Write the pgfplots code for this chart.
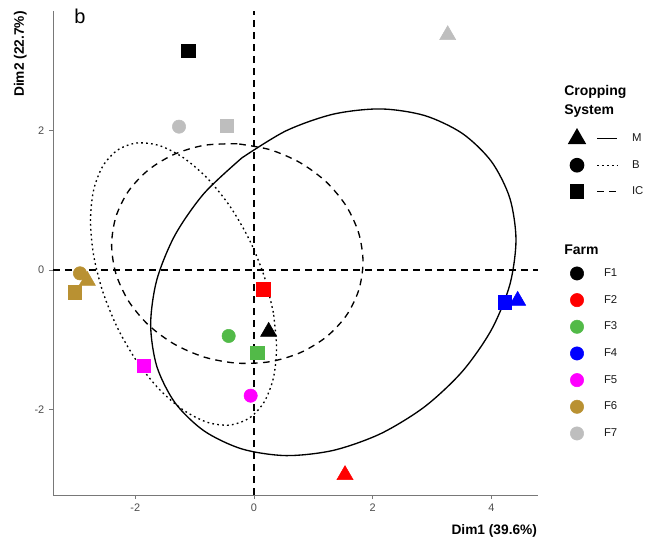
\documentclass[border=0pt]{standalone}
\usepackage{fontspec}
\setmainfont{Liberation Sans}
\usepackage{pgfplots}
\pgfplotsset{compat=1.18}
\definecolor{cF1}{RGB}{0,0,0}
\definecolor{cF2}{RGB}{255,0,0}
\definecolor{cF3}{RGB}{82,186,72}
\definecolor{cF4}{RGB}{0,0,255}
\definecolor{cF5}{RGB}{255,0,255}
\definecolor{cF6}{RGB}{185,145,50}
\definecolor{cF7}{RGB}{190,190,190}
\definecolor{axgray}{RGB}{120,120,120}
\definecolor{tickgray}{RGB}{77,77,77}
\pgfplotsset{
  farmclasses/.style={scatter, only marks, forget plot, scatter src=explicit symbolic,
    scatter/classes={F1={cF1},F2={cF2},F3={cF3},F4={cF4},F5={cF5},F6={cF6},F7={cF7}}},
  ell/.style={forget plot, black, line width=1pt, smooth, mark=none},
  dashedp/.style={dash pattern=on 5pt off 4pt},
  dottedp/.style={dash pattern=on 1.3pt off 2.4pt},
  cslegend/.style={legend image code/.code={
      \path[draw=none, fill=none] (-7.5pt,-9.94pt) rectangle (32.25pt,9.94pt);
      \draw[##1, mark=none] (15pt,0pt) -- (30pt,0pt);
      \draw[##1, mark options={solid}] plot coordinates {(0pt,0pt)};
  }},
  farmlegend/.style={legend image code/.code={
      \path[draw=none, fill=none] (-7.5pt,-10pt) rectangle (7.5pt,10pt);
      \draw[##1] plot coordinates {(0pt,0pt)};
  }},
  basic/.style={at={(0pt,0pt)}, anchor=south west, scale only axis,
    width=363.75pt, height=363pt,
    xmin=-3.388, xmax=4.787, ymin=-3.226, ymax=3.713, clip=false},
}
\begin{document}
\begin{tikzpicture}
\useasboundingbox (-39.75pt,-36.75pt) rectangle (449.25pt,371.25pt);
\begin{axis}[basic,
  axis line style={draw=none},
  xtick={-2,0,2,4}, ytick={-2,0,2},
  xtick pos=left, ytick pos=left,
  tick align=outside, major tick length=3pt,
  tick style={axgray, line width=0.7pt},
  ticklabel style={font=\fontsize{8.2}{9.6}\selectfont, text=tickgray},
  /pgf/number format/assume math mode=true,
  legend style={draw=none, fill=none, inner sep=0pt, outer sep=0pt, row sep=0pt,
    column sep=9pt, nodes={inner sep=0pt, outer sep=0pt},
    font=\fontsize{8.5}{10}\selectfont, text=black!90,
    at={(1.0598,0.7635)}, anchor=north west},
  legend cell align=left]
\draw[axgray, line width=0.7pt] (rel axis cs:0,1) -- (rel axis cs:0,0) -- (rel axis cs:1,0);
% points: M (triangles)
\addplot[farmclasses, mark=triangle*, mark size=7pt] table[meta=farm] {
x y farm
3.265 3.368 F7
-2.81 -0.153 F6
0.247 -0.885 F1
1.534 -2.939 F2
4.444 -0.440 F4
};
% B (circles)
\addplot[farmclasses, mark=*, mark size=5pt] table[meta=farm] {
x y farm
-1.264 2.055 F7
-2.933 -0.048 F6
-0.427 -0.946 F3
-0.056 -1.802 F5
};
% IC (squares)
\addplot[farmclasses, mark=square*, mark size=5pt] table[meta=farm] {
x y farm
-1.107 3.144 F1
-0.46 2.069 F7
-3.017 -0.32 F6
0.157 -0.277 F2
0.056 -1.185 F3
-1.854 -1.372 F5
4.231 -0.463 F4
};
% ellipses
\addplot[ell] coordinates {(-0.203,1.608) (-0.840,1.100) (-1.329,0.504) (-1.637,-0.137) (-1.742,-0.782) (-1.637,-1.385) (-1.329,-1.906) (-0.840,-2.308) (-0.203,-2.566) (0.540,-2.661) (1.337,-2.586) (2.134,-2.347) (2.877,-1.960) (3.514,-1.452) (4.003,-0.856) (4.311,-0.215) (4.416,0.430) (4.311,1.033) (4.003,1.554) (3.514,1.956) (2.877,2.214) (2.134,2.309) (1.337,2.234) (0.540,1.995) (-0.203,1.608)};
\addplot[ell, dashedp] coordinates {(-0.281,1.810) (-0.830,1.789) (-1.341,1.660) (-1.779,1.435) (-2.116,1.130) (-2.328,0.762) (-2.400,0.359) (-2.328,-0.052) (-2.116,-0.444) (-1.779,-0.789) (-1.341,-1.064) (-0.830,-1.251) (-0.281,-1.336) (0.268,-1.315) (0.779,-1.186) (1.217,-0.961) (1.554,-0.656) (1.766,-0.288) (1.838,0.115) (1.766,0.526) (1.554,0.918) (1.217,1.263) (0.779,1.538) (0.268,1.725) (-0.281,1.810)};
\addplot[ell, dottedp] coordinates {(0.327,-0.611) (0.170,-0.084) (-0.079,0.435) (-0.404,0.911) (-0.782,1.311) (-1.188,1.608) (-1.594,1.783) (-1.972,1.821) (-2.297,1.721) (-2.546,1.492) (-2.703,1.147) (-2.756,0.709) (-2.703,0.209) (-2.546,-0.318) (-2.297,-0.837) (-1.972,-1.313) (-1.594,-1.713) (-1.188,-2.010) (-0.782,-2.185) (-0.404,-2.223) (-0.079,-2.123) (0.170,-1.894) (0.327,-1.549) (0.380,-1.111) (0.327,-0.611)};
% reference lines
\addplot[forget plot, black, line width=1pt, dashedp, mark=none] coordinates {(-3.388,0) (4.787,0)};
\addplot[forget plot, black, line width=1pt, dashedp, mark=none] coordinates {(0,-3.226) (0,3.713)};
% legend: cropping system
\addlegendimage{cslegend, black, solid, line width=1pt, mark=triangle*, mark size=7pt, mark options={line width=0.3pt}}
\addlegendentry{M}
\addlegendimage{cslegend, black, dottedp, line width=1pt, mark=*, mark size=5pt, mark options={line width=0.3pt}}
\addlegendentry{B}
\addlegendimage{cslegend, black, dashedp, line width=1pt, mark=square*, mark size=5pt, mark options={line width=0.3pt}}
\addlegendentry{IC}
\end{axis}
\begin{axis}[basic, hide axis,
  legend style={draw=none, fill=none, inner sep=0pt, outer sep=0pt, row sep=0pt,
    column sep=12.75pt, nodes={inner sep=0pt, outer sep=0pt},
    font=\fontsize{8.5}{10}\selectfont, text=black!90,
    at={(1.0598,0.4853)}, anchor=north west},
  legend cell align=left]
\addlegendimage{farmlegend, only marks, mark=*, mark size=5pt, cF1}
\addlegendentry{F1}
\addlegendimage{farmlegend, only marks, mark=*, mark size=5pt, cF2}
\addlegendentry{F2}
\addlegendimage{farmlegend, only marks, mark=*, mark size=5pt, cF3}
\addlegendentry{F3}
\addlegendimage{farmlegend, only marks, mark=*, mark size=5pt, cF4}
\addlegendentry{F4}
\addlegendimage{farmlegend, only marks, mark=*, mark size=5pt, cF5}
\addlegendentry{F5}
\addlegendimage{farmlegend, only marks, mark=*, mark size=5pt, cF6}
\addlegendentry{F6}
\addlegendimage{farmlegend, only marks, mark=*, mark size=5pt, cF7}
\addlegendentry{F7}
\end{axis}
\node[anchor=base west, font=\fontsize{15}{18}\selectfont, inner sep=0pt] at (15.75pt,353.25pt) {b};
\node[rotate=90, anchor=base east, font=\bfseries\fontsize{10.3}{12}\selectfont, inner sep=0pt] at (-21.75pt,363pt) {Dim2 (22.7\%)};
\node[anchor=base east, font=\bfseries\fontsize{10.3}{12}\selectfont, inner sep=0pt] at (363.2pt,-29.25pt) {Dim1 (39.6\%)};
\node[anchor=base west, font=\bfseries\fontsize{10.5}{12}\selectfont, inner sep=0pt] at (383.25pt,299.5pt) {Cropping};
\node[anchor=base west, font=\bfseries\fontsize{10.5}{12}\selectfont, inner sep=0pt] at (383.25pt,285.5pt) {System};
\node[anchor=base west, font=\bfseries\fontsize{10.5}{12}\selectfont, inner sep=0pt] at (383.25pt,180.75pt) {Farm};
\end{tikzpicture}
\end{document}
